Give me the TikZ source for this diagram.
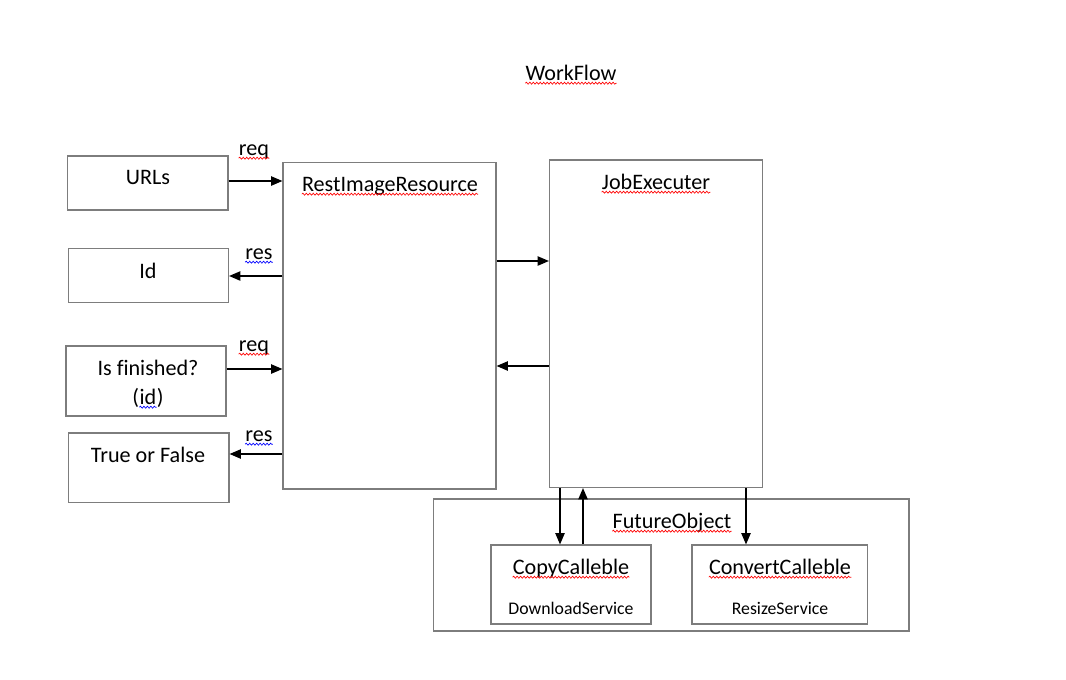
\documentclass[tikz,border=0pt]{standalone}
\usepackage{fontspec}
\setmainfont{Carlito}[Ligatures=NoCommon]
\usetikzlibrary{arrows.meta,decorations.pathmorphing,fit}
\definecolor{boxgray}{RGB}{125,125,125}
\begin{document}
\begin{tikzpicture}[x=0.75pt,y=-0.75pt,
  box/.style={draw=boxgray, line width=0.85pt, inner sep=0pt},
  txt/.style={inner sep=0pt, anchor=base, font=\fontsize{16.6}{19}\selectfont},
  small/.style={inner sep=0pt, anchor=base, font=\fontsize{13.3}{16}\selectfont},
  arr/.style={-{Triangle[length=8.5pt,width=7pt]}, line width=1pt},
  sqr/.style={draw=red, line width=0.5pt, decorate, decoration={snake, amplitude=0.75pt, segment length=2.6pt}},
  sqb/.style={sqr, draw=blue}]
\useasboundingbox (0,0) rectangle (1066,679);
\fill[white] (0,0) rectangle (1066,679);

% boxes
\node[box, fit={(67.5,156) (228,210)}] (urls) {};
\node[box, fit={(68.5,248.5) (228.5,302.5)}] (id) {};
\node[box, fit={(66,346) (226,416)}] (fin) {};
\node[box, fit={(68.5,433) (229,502.5)}] (tf) {};
\node[box, fit={(283,162.5) (496,489)}] (rest) {};
\node[box, fit={(549.5,160) (762.5,487.5)}] (job) {};
\node[box, fit={(433.5,499) (909,631)}] (fut) {};
\node[box, fit={(491,545) (651,624)}] (copy) {};
\node[box, fit={(692,545) (867.5,624)}] (conv) {};

% texts
\node[txt] (tWF) at (571,80) {WorkFlow};
\node[txt] (tReq1) at (254,155) {req};
\node[txt] (tURL) at (148,184) {URLs};
\node[txt] (tRest) at (390,191) {RestImageResource};
\node[txt] (tJob) at (656,189) {JobExecuter};
\node[txt] (tRes1) at (259,259) {res};
\node[txt] (tId) at (148,278) {Id};
\node[txt] (tReq2) at (254,351) {req};
\node[txt] (tFin) at (148,375) {Is finished?};
\node[txt] (tIdi) at (148,404) {id};
\node[txt, anchor=base east] (tIdl) at (tIdi.base west) {(};
\node[txt, anchor=base west] (tIdr) at (tIdi.base east) {)};
\node[txt] (tRes2) at (259,441) {res};
\node[txt] (tTF) at (148,462) {True or False};
\node[txt] (tFut) at (672,528) {FutureObject};
\node[txt] (tCopy) at (571,574) {CopyCalleble};
\node[txt] (tConv) at (780,574) {ConvertCalleble};
\node[small] (tDown) at (571,614) {DownloadService};
\node[small] (tResz) at (780,614) {ResizeService};

% spell-check underlines
\foreach \n in {tWF,tReq1,tRest,tJob,tReq2,tFut,tCopy,tConv}
  \draw[sqr] ([yshift=-2.4pt]\n.base west) -- ([yshift=-2.4pt]\n.base east);
\foreach \n in {tRes1,tRes2,tIdi}
  \draw[sqb] ([yshift=-2.4pt]\n.base west) -- ([yshift=-2.4pt]\n.base east);

% connectors
\draw[arr] (urls.east |- 0,181) -- (rest.west |- 0,181);
\draw[arr] (rest.west |- 0,276) -- (id.east |- 0,276);
\draw[arr] (fin.east |- 0,369) -- (rest.west |- 0,369);
\draw[arr] (rest.west |- 0,454) -- (tf.east |- 0,454);
\draw[arr] (rest.east |- 0,261) -- (job.west |- 0,261);
\draw[arr] (job.west |- 0,366) -- (rest.east |- 0,366);
\draw[arr] (job.south -| 560,0) -- (copy.north -| 560,0);
\draw[arr] (copy.north -| 583,0) -- (job.south -| 583,0);
\draw[arr] (job.south -| 746,0) -- (conv.north -| 746,0);
\end{tikzpicture}
\end{document}
